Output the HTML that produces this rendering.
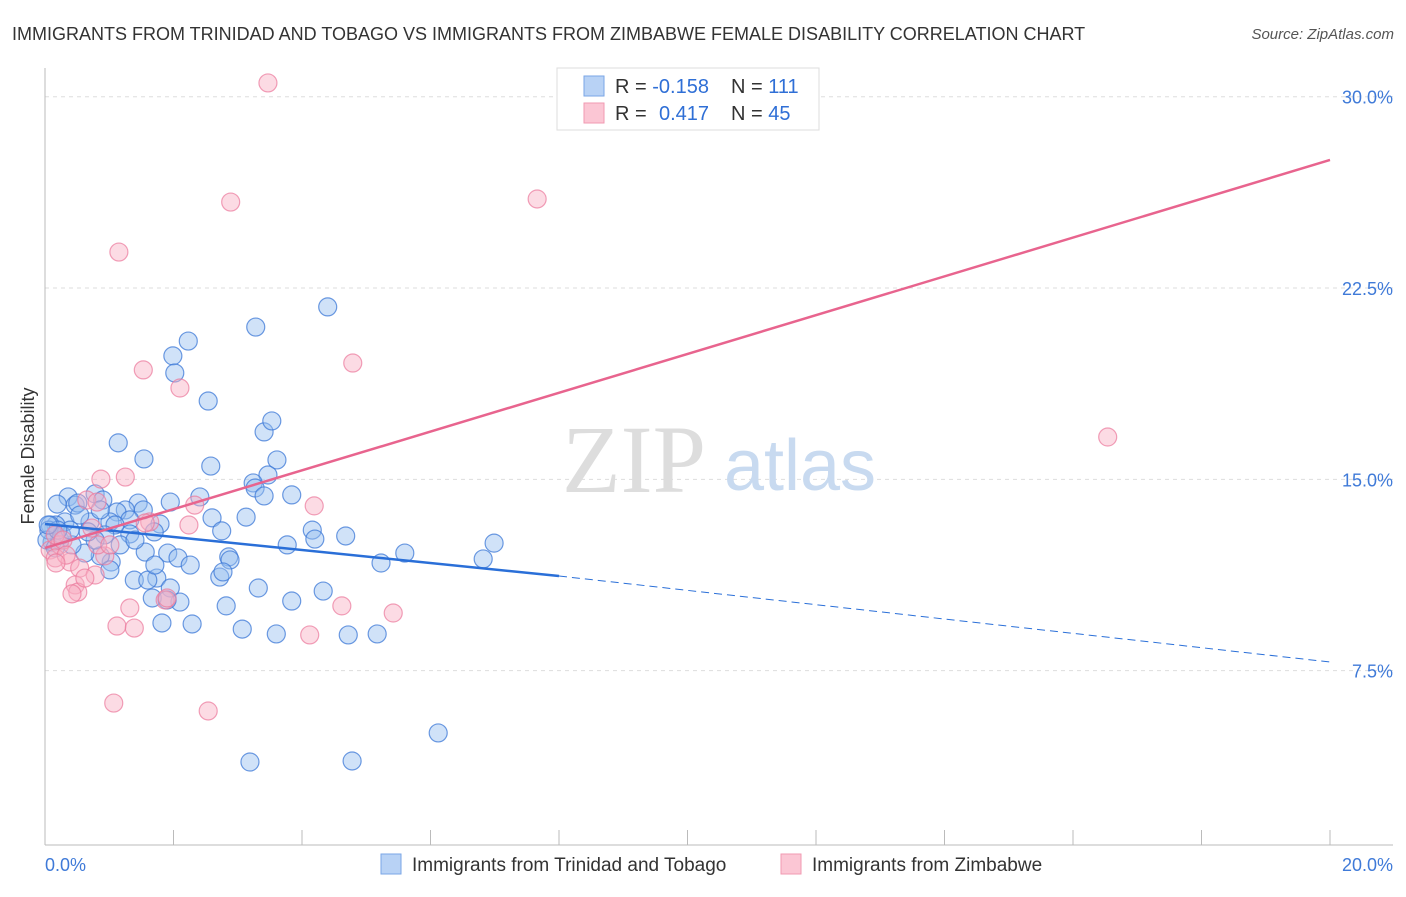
<!DOCTYPE html>
<html><head><meta charset="utf-8"><style>
body{margin:0;background:#fff;font-family:"Liberation Sans",sans-serif;}
</style></head><body>
<svg id="chart" width="1406" height="892" xmlns="http://www.w3.org/2000/svg">
<text x="12" y="40" font-size="18" fill="#333">IMMIGRANTS FROM TRINIDAD AND TOBAGO VS IMMIGRANTS FROM ZIMBABWE FEMALE DISABILITY CORRELATION CHART</text>
<text x="1394" y="39" font-size="15" fill="#555" font-style="italic" text-anchor="end">Source: ZipAtlas.com</text>
<text x="34" y="456" font-size="18" fill="#333" text-anchor="middle" transform="rotate(-90 34 456)">Female Disability</text>
<g id="grid"></g>
<text x="634" y="492" font-size="96" fill="#ddd" font-family="Liberation Serif" text-anchor="middle">ZIP</text>
<text x="800" y="490" font-size="72" fill="#c8daf0" text-anchor="middle">atlas</text>
<g id="pts"></g>
<g id="lines"></g>
<g>
<rect x="557" y="68" width="262" height="62" fill="#fff" stroke="#ddd"/>
<rect x="584" y="76" width="20" height="20" fill="#b8d2f5" stroke="#7aa6e6"/>
<rect x="584" y="103" width="20" height="20" fill="#fbc6d4" stroke="#f09ab2"/>
<text x="615" y="93" font-size="20" fill="#333">R = <tspan fill="#2f6fd6">-0.158</tspan></text>
<text x="731" y="93" font-size="20" fill="#333">N = <tspan fill="#2f6fd6">111</tspan></text>
<text x="615" y="120" font-size="20" fill="#333">R = </text>
<text x="659" y="120" font-size="20" fill="#2f6fd6">0.417</text>
<text x="731" y="120" font-size="20" fill="#333">N = <tspan fill="#2f6fd6">45</tspan></text>
</g>
<g>
<rect x="381" y="854" width="20" height="20" fill="#b8d2f5" stroke="#7aa6e6"/>
<text x="412" y="871" font-size="19" fill="#333">Immigrants from Trinidad and Tobago</text>
<rect x="781" y="854" width="20" height="20" fill="#fbc6d4" stroke="#f09ab2"/>
<text x="812" y="871" font-size="19" fill="#333">Immigrants from Zimbabwe</text>
</g>
</svg>
<script>
const yTicks=[7.5,15,22.5,30];
const yTickLabels=["7.5%","15.0%","22.5%","30.0%"];
const xTickLabels=["0.0%","20.0%"];
const blueX=[4.40,3.28,2.23,1.99,2.02,2.54,3.41,3.53,1.14,1.54,2.58,3.61,3.47,3.24,3.27,3.41,3.84,0.78,0.36,0.19,0.47,0.51,0.90,1.45,1.95,2.41,1.25,1.53,1.12,2.60,3.13,4.16,4.68,4.20,3.77,0.31,0.70,0.17,0.08,1.01,1.32,1.79,2.75,1.70,1.32,1.17,1.56,1.91,2.07,2.86,2.88,2.26,1.03,0.86,0.62,0.42,0.23,0.11,1.01,1.39,1.74,2.72,2.77,1.60,1.67,1.95,2.10,1.90,3.32,2.82,3.84,4.33,5.23,5.60,6.99,6.82,1.82,2.29,3.07,3.60,4.72,5.17,3.19,4.78,6.12,0.06,0.03,0.16,0.26,0.54,0.86,1.09,1.40,1.71,0.93,0.78,0.67,0.39,0.20,0.05];
const blueY=[21.76,20.97,20.42,19.84,19.17,18.07,16.86,17.29,16.43,15.80,15.52,15.76,15.17,14.86,14.66,14.35,14.39,14.43,14.31,14.03,13.99,14.07,14.19,14.07,14.11,14.31,13.80,13.80,13.72,13.49,13.52,13.01,12.78,12.66,12.43,13.33,13.33,13.21,13.21,13.33,13.41,13.25,12.98,12.94,12.86,12.43,12.15,12.11,11.92,11.96,11.84,11.64,11.76,12.00,12.11,12.43,12.62,12.54,11.45,11.05,11.13,11.17,11.37,11.05,10.35,10.74,10.19,10.27,10.74,10.04,10.23,10.62,11.72,12.11,12.50,11.88,9.37,9.33,9.13,8.94,8.90,8.94,3.92,3.96,5.06,13.01,12.62,12.31,12.82,13.60,13.80,13.21,12.62,11.64,12.82,12.62,12.94,13.01,13.01,13.21];
const pinkX=[3.47,2.89,7.66,1.15,1.53,2.10,4.79,16.54,1.25,0.87,0.65,0.81,2.33,1.63,2.24,4.19,0.08,0.23,0.16,0.39,0.54,0.78,0.47,0.51,0.42,1.32,1.87,4.62,5.42,4.12,1.12,1.39,1.07,2.54,0.16,0.28,0.93,1.56,0.82,0.33,0.17,1.01,0.73,1.90,0.62];
const pinkY=[30.54,25.87,25.99,23.91,19.29,18.58,19.56,16.66,15.09,15.01,14.19,14.11,13.99,13.33,13.21,13.96,12.23,12.43,11.92,11.76,11.52,11.25,10.86,10.58,10.51,9.96,10.27,10.04,9.76,8.90,9.25,9.17,6.23,5.92,12.82,12.62,12.00,13.29,12.43,12.03,11.72,12.43,13.09,10.35,11.13];
const blueTrend=[13.25,11.21,7.84]; const blueTrendX=[0,8,20];
const pinkTrend=[12.31,27.52]; const pinkTrendX=[0,20];

const NS="http://www.w3.org/2000/svg";
const sx=v=>45+v*64.25, sy=v=>862-v*25.51;
function mk(t,a,p){const e=document.createElementNS(NS,t);for(const k in a)e.setAttribute(k,a[k]);p.appendChild(e);return e;}
const grid=document.getElementById('grid');
yTicks.forEach((t,i)=>{
 const l=mk('line',{x1:45,x2:1393,y1:sy(t),y2:sy(t),stroke:'#ddd','stroke-dasharray':'4,4'},grid);
 
 
 const tx=mk('text',{x:1393,y:sy(t)+7,'font-size':18,fill:'#3f7ad8','text-anchor':'end'},grid);
 tx.textContent=yTickLabels[i];
 
 
});
const ax=mk('line',{x1:45,x2:45,y1:68,y2:845,stroke:'#bbb'},grid);


const bx=mk('line',{x1:45,x2:1393,y1:845,y2:845,stroke:'#bbb'},grid);


for(let i=1;i<=10;i++){const t=mk('line',{x1:sx(i*2),x2:sx(i*2),y1:830,y2:845,stroke:'#bbb'},grid);
 
 }
[[0,'start',45],[20,'end',1393]].forEach((d,i)=>{const t=mk('text',{x:d[2],y:871,'font-size':18,fill:'#3f7ad8','text-anchor':d[1]},grid);t.textContent=xTickLabels[i];
 
 });
const pts=document.getElementById('pts');
blueX.forEach((x,i)=>{const c=mk('circle',{cx:sx(x),cy:sy(blueY[i]),r:9,fill:'rgba(150,190,240,0.45)',stroke:'rgba(60,120,215,0.75)','stroke-width':1.2},pts);
 
 });
pinkX.forEach((x,i)=>{const c=mk('circle',{cx:sx(x),cy:sy(pinkY[i]),r:9,fill:'rgba(248,175,195,0.45)',stroke:'rgba(235,120,155,0.7)','stroke-width':1.2},pts);
 
 });
const lines=document.getElementById('lines');
const b1=mk('line',{x1:sx(blueTrendX[0]),y1:sy(blueTrend[0]),x2:sx(blueTrendX[1]),y2:sy(blueTrend[1]),stroke:'#2a6fd8','stroke-width':2.5},lines);


const b2=mk('line',{x1:sx(blueTrendX[1]),y1:sy(blueTrend[1]),x2:sx(blueTrendX[2]),y2:sy(blueTrend[2]),stroke:'#2a6fd8','stroke-width':1,'stroke-dasharray':'8,5'},lines);


const p1=mk('line',{x1:sx(pinkTrendX[0]),y1:sy(pinkTrend[0]),x2:sx(pinkTrendX[1]),y2:sy(pinkTrend[1]),stroke:'#e8648e','stroke-width':2.5},lines);


</script>
</body></html>
